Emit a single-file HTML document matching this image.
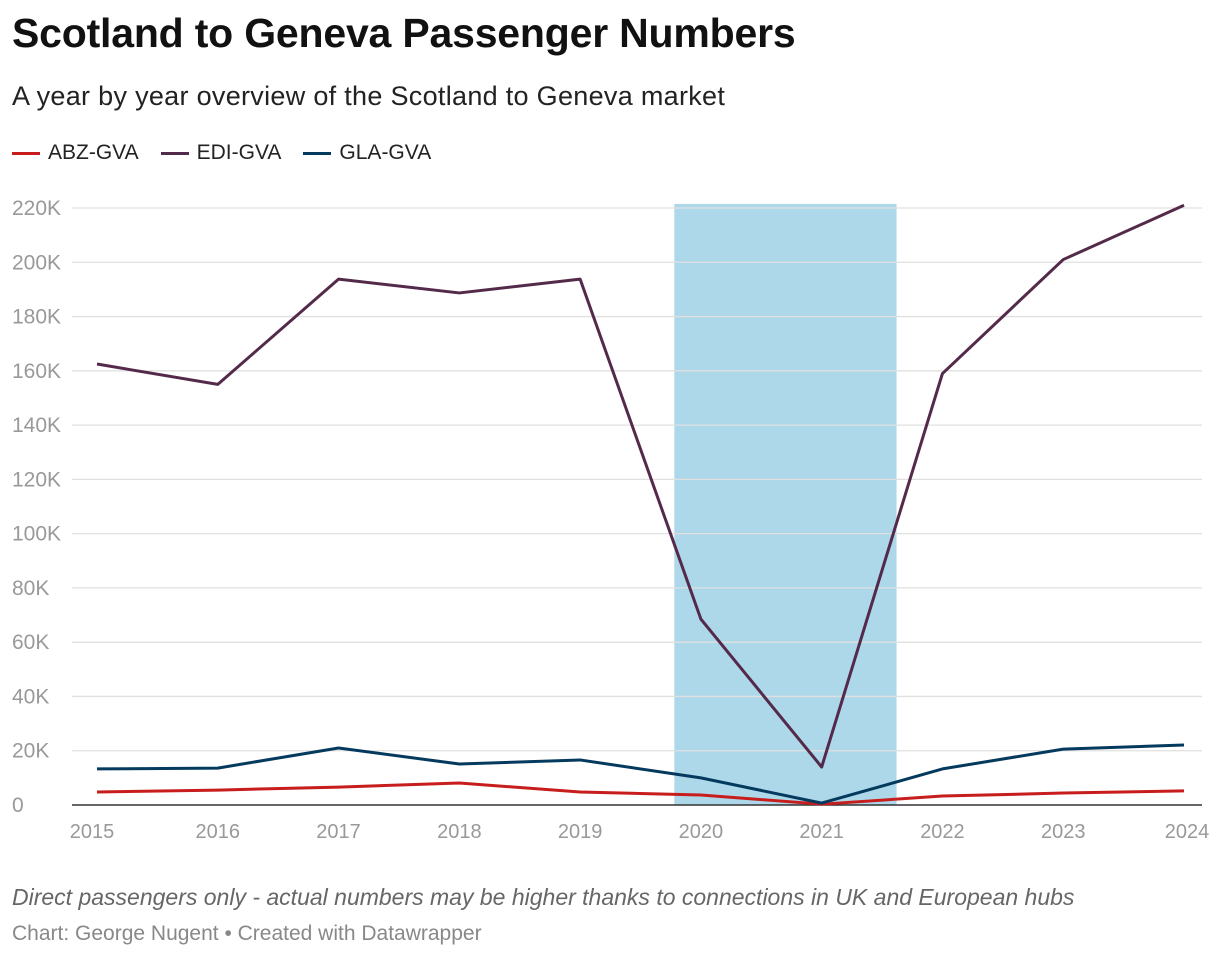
<!DOCTYPE html>
<html><head><meta charset="utf-8">
<style>
body{margin:0;background:#fff;font-family:"Liberation Sans",Roboto,sans-serif;width:1220px;height:960px;overflow:hidden;position:relative}
.t{position:absolute;left:12px;white-space:nowrap}
</style></head><body>
<div class="t" style="top:10px;font-size:41px;font-weight:bold;color:#111;letter-spacing:-0.2px">Scotland to Geneva Passenger Numbers</div>
<div class="t" style="top:81px;font-size:27px;color:#222;letter-spacing:0.3px">A year by year overview of the Scotland to Geneva market</div>
<div class="t" style="top:141px;font-size:21px;color:#222;display:flex;gap:22px">
 <span><span style="display:inline-block;width:28px;height:3px;background:#c71e1d;vertical-align:middle;margin-right:8px"></span>ABZ-GVA</span>
 <span><span style="display:inline-block;width:28px;height:3px;background:#542a4a;vertical-align:middle;margin-right:8px"></span>EDI-GVA</span>
 <span><span style="display:inline-block;width:28px;height:3px;background:#053a5f;vertical-align:middle;margin-right:8px"></span>GLA-GVA</span>
</div>
<svg id="chart" width="1220" height="960" style="position:absolute;left:0;top:0"></svg>
<div class="t" style="top:884px;font-size:23px;font-style:italic;color:#666">Direct passengers only - actual numbers may be higher thanks to connections in UK and European hubs</div>
<div class="t" style="top:922px;font-size:21px;color:#888">Chart: George Nugent • Created with Datawrapper</div>
<script>
const years=[2015,2016,2017,2018,2019,2020,2021,2022,2023,2024];
const abz=[4.8,5.5,6.6,8.1,4.8,3.7,0.3,3.3,4.4,5.2];
const edi=[162.5,155,193.8,188.7,193.8,68.5,14,159,201,221];
const gla=[13.3,13.6,21,15.1,16.6,10,0.7,13.3,20.6,22.1];
const yTicks=[0,20,40,60,80,100,120,140,160,180,200,220];
const band=[2019.78,2021.62];
const NS="http://www.w3.org/2000/svg";
const svg=document.getElementById('chart');
const x=v=>97+(v-2015)*(1184-97)/9;
const y=v=>805-v*(805-208)/220;
function el(t,a){const e=document.createElementNS(NS,t);for(const k in a)e.setAttribute(k,a[k]);svg.appendChild(e);return e;}
const b=el('rect',{x:x(band[0]),y:y(221.5),width:x(band[1])-x(band[0]),height:y(0)-y(221.5),fill:'#add8ea'});


yTicks.forEach(v=>{
 if(v>0){const g=el('line',{x1:72,x2:1202,y1:y(v),y2:y(v),stroke:'#e0e0e0','stroke-width':1.3});
 
 }
 const t=el('text',{x:12,y:y(v)+7,'font-size':21,fill:'#999','font-family':'Liberation Sans, sans-serif'});
 t.textContent=v===0?'0':v+'K';
 
 
});
const ax=el('line',{x1:72,x2:1202,y1:y(0),y2:y(0),stroke:'#333','stroke-width':1.5});


years.forEach(yr=>{
 const t=el('text',{x:x(yr)-(yr===2015?5:yr===2024?-3:0),y:838,'font-size':20,fill:'#999','text-anchor':'middle','font-family':'Liberation Sans, sans-serif'});
 t.textContent=yr;
 
 
});
[[abz,'#c71e1d','line-abz-gva'],[gla,'#053a5f','line-gla-gva'],[edi,'#542a4a','line-edi-gva']].forEach(([d,c,n])=>{
 const p=el('polyline',{points:d.map((v,i)=>x(years[i])+','+y(v)).join(' '),fill:'none',stroke:c,'stroke-width':3,'stroke-linejoin':'round'});
 
 
});
</script>
</body></html>
